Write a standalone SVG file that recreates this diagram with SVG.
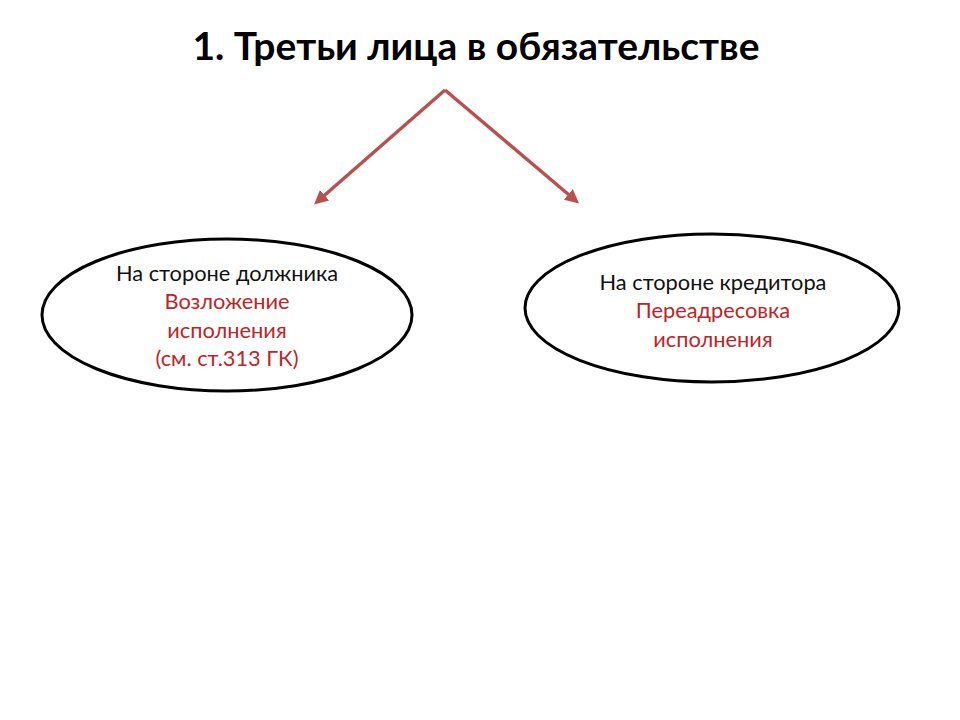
<svg xmlns="http://www.w3.org/2000/svg" width="960" height="720" viewBox="0 0 960 720">
<style>
.t{font-family:Lato,"Open Sans","Liberation Sans",sans-serif;text-anchor:middle}
.b{font-size:21.8px;fill:#111}
.r{font-size:21.8px;fill:#b8262a}
.e{fill:#fff;stroke:#000;stroke-width:3}
.c{stroke:#b5524f;stroke-width:3.5;fill:none;marker-end:url(#ah)}
</style>
<defs>
<marker id="ah" markerWidth="4" markerHeight="4" refX="2.5" refY="2" orient="auto" markerUnits="strokeWidth">
<path d="M0,0 L4,2 L0,4 z" fill="#b5524f"/>
</marker>
</defs>
<rect width="960" height="720" fill="#fff"/>
<text class="t" x="476" y="60" font-size="39" font-weight="bold" fill="#000">1. Третьи лица в обязательстве</text>
<g id="connectors">
<path class="c" d="M445,90 L318,201"/>
<path class="c" d="M445,90 L575,200"/>
</g>
<g id="debtor">
<ellipse class="e" cx="227" cy="315" rx="185" ry="76"/>
<text class="t b" x="227" y="281">На стороне должника</text>
<text class="t r" x="227" y="309">Возложение</text>
<text class="t r" x="227" y="338">исполнения</text>
<text class="t r" x="227" y="366">(см. ст.313 ГК)</text>
</g>
<g id="creditor">
<ellipse class="e" cx="712" cy="308" rx="187" ry="74"/>
<text class="t b" x="713" y="290">На стороне кредитора</text>
<text class="t r" x="713" y="318">Переадресовка</text>
<text class="t r" x="713" y="347">исполнения</text>
</g>
</svg>
